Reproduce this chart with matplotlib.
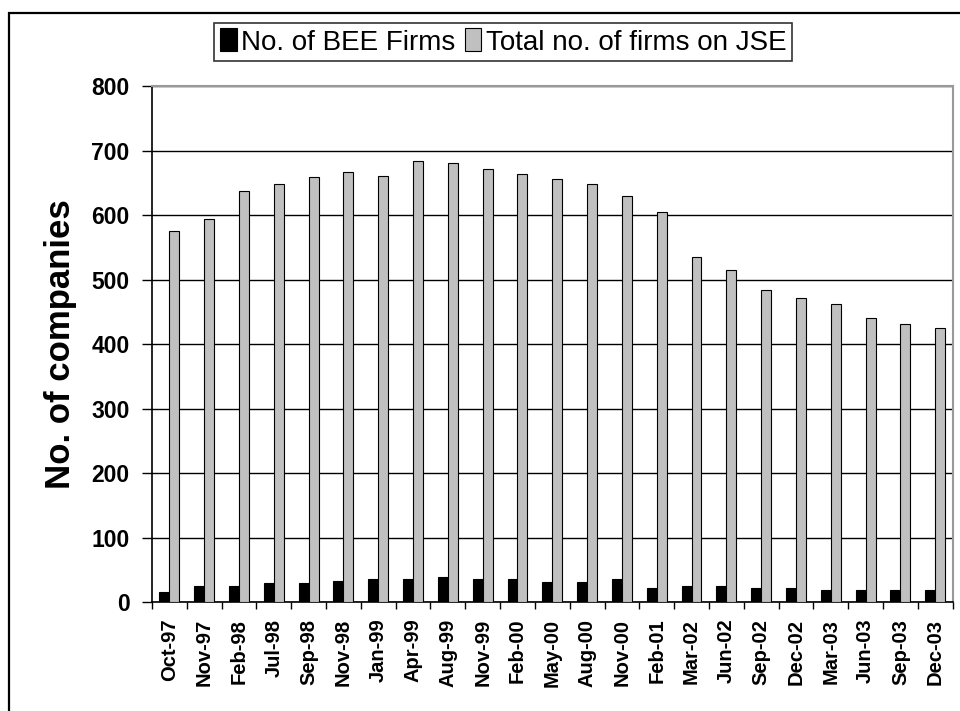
import numpy as np
import matplotlib
matplotlib.use('Agg')
import matplotlib.pyplot as plt
from matplotlib.patches import Rectangle

months = ['Oct-97', 'Nov-97', 'Feb-98', 'Jul-98', 'Sep-98', 'Nov-98', 'Jan-99',
          'Apr-99', 'Aug-99', 'Nov-99', 'Feb-00', 'May-00', 'Aug-00', 'Nov-00',
          'Feb-01', 'Mar-02', 'Jun-02', 'Sep-02', 'Dec-02', 'Mar-03', 'Jun-03',
          'Sep-03', 'Dec-03']
bee_firms = [16, 25, 25, 29, 29, 32, 35, 35, 38, 35, 35, 31, 31, 35,
             22, 25, 25, 22, 22, 19, 19, 19, 19]
jse_firms = [576, 594, 638, 648, 659, 666, 661, 683, 681, 671, 664, 656, 648, 629,
             605, 535, 515, 484, 471, 462, 441, 431, 425]

plt.rcParams['font.family'] = ['Liberation Sans', 'DejaVu Sans']

fig = plt.figure(figsize=(9.6, 7.11), dpi=100)
ax = fig.add_axes([0.1583, 0.1533, 0.834, 0.7257])

x = np.arange(len(months))
w = 0.2857
ax.bar(x - w / 2, bee_firms, w, color='black', edgecolor='black', linewidth=0.8,
       label='No. of BEE Firms', zorder=3)
ax.bar(x + w / 2, jse_firms, w, color='#c0c0c0', edgecolor='black', linewidth=0.8,
       label='Total no. of firms on JSE', zorder=3)

ax.set_xlim(-0.5, len(months) - 0.5)
ax.set_ylim(0, 800)
ax.set_yticks(range(0, 801, 100))
ax.yaxis.grid(True, color='black', linewidth=1.0, zorder=0)
ax.set_axisbelow(True)

ax.set_xticks(x)
ax.set_xticklabels(months, rotation=90, fontsize=14.5, fontweight='bold')
ax.set_xticks(np.arange(-0.5, len(months)), minor=True)
ax.tick_params(axis='x', which='major', length=0, pad=12)
ax.tick_params(axis='x', which='minor', length=5, width=1, direction='out')
ax.tick_params(axis='y', length=7, width=1, pad=9, labelsize=16.5)
for lbl in ax.get_yticklabels():
    lbl.set_fontweight('bold')

ax.set_ylabel('No. of companies', fontsize=25, fontweight='bold')
ax.yaxis.set_label_coords(-0.094, 0.5)

for side in ['left', 'bottom']:
    ax.spines[side].set_color('black')
    ax.spines[side].set_linewidth(1.2)
for side in ['top', 'right']:
    ax.spines[side].set_color('#999999')
    ax.spines[side].set_linewidth(1.5)

leg = fig.legend(loc='center', bbox_to_anchor=(0.524, 0.941), ncol=2,
                 frameon=True, fancybox=False, edgecolor='black',
                 handlelength=0.6, handleheight=0.9, handletextpad=0.15,
                 columnspacing=0.35, borderpad=0.2, borderaxespad=0,
                 prop={'size': 20})
leg.get_frame().set_linewidth(1.2)

fig.patches.append(Rectangle((9 / 960, -0.2), 1.5, 1.2 - 13 / 711, transform=fig.transFigure,
                             fill=False, edgecolor='black', linewidth=1.6))

fig.savefig('out.png', dpi=100)
